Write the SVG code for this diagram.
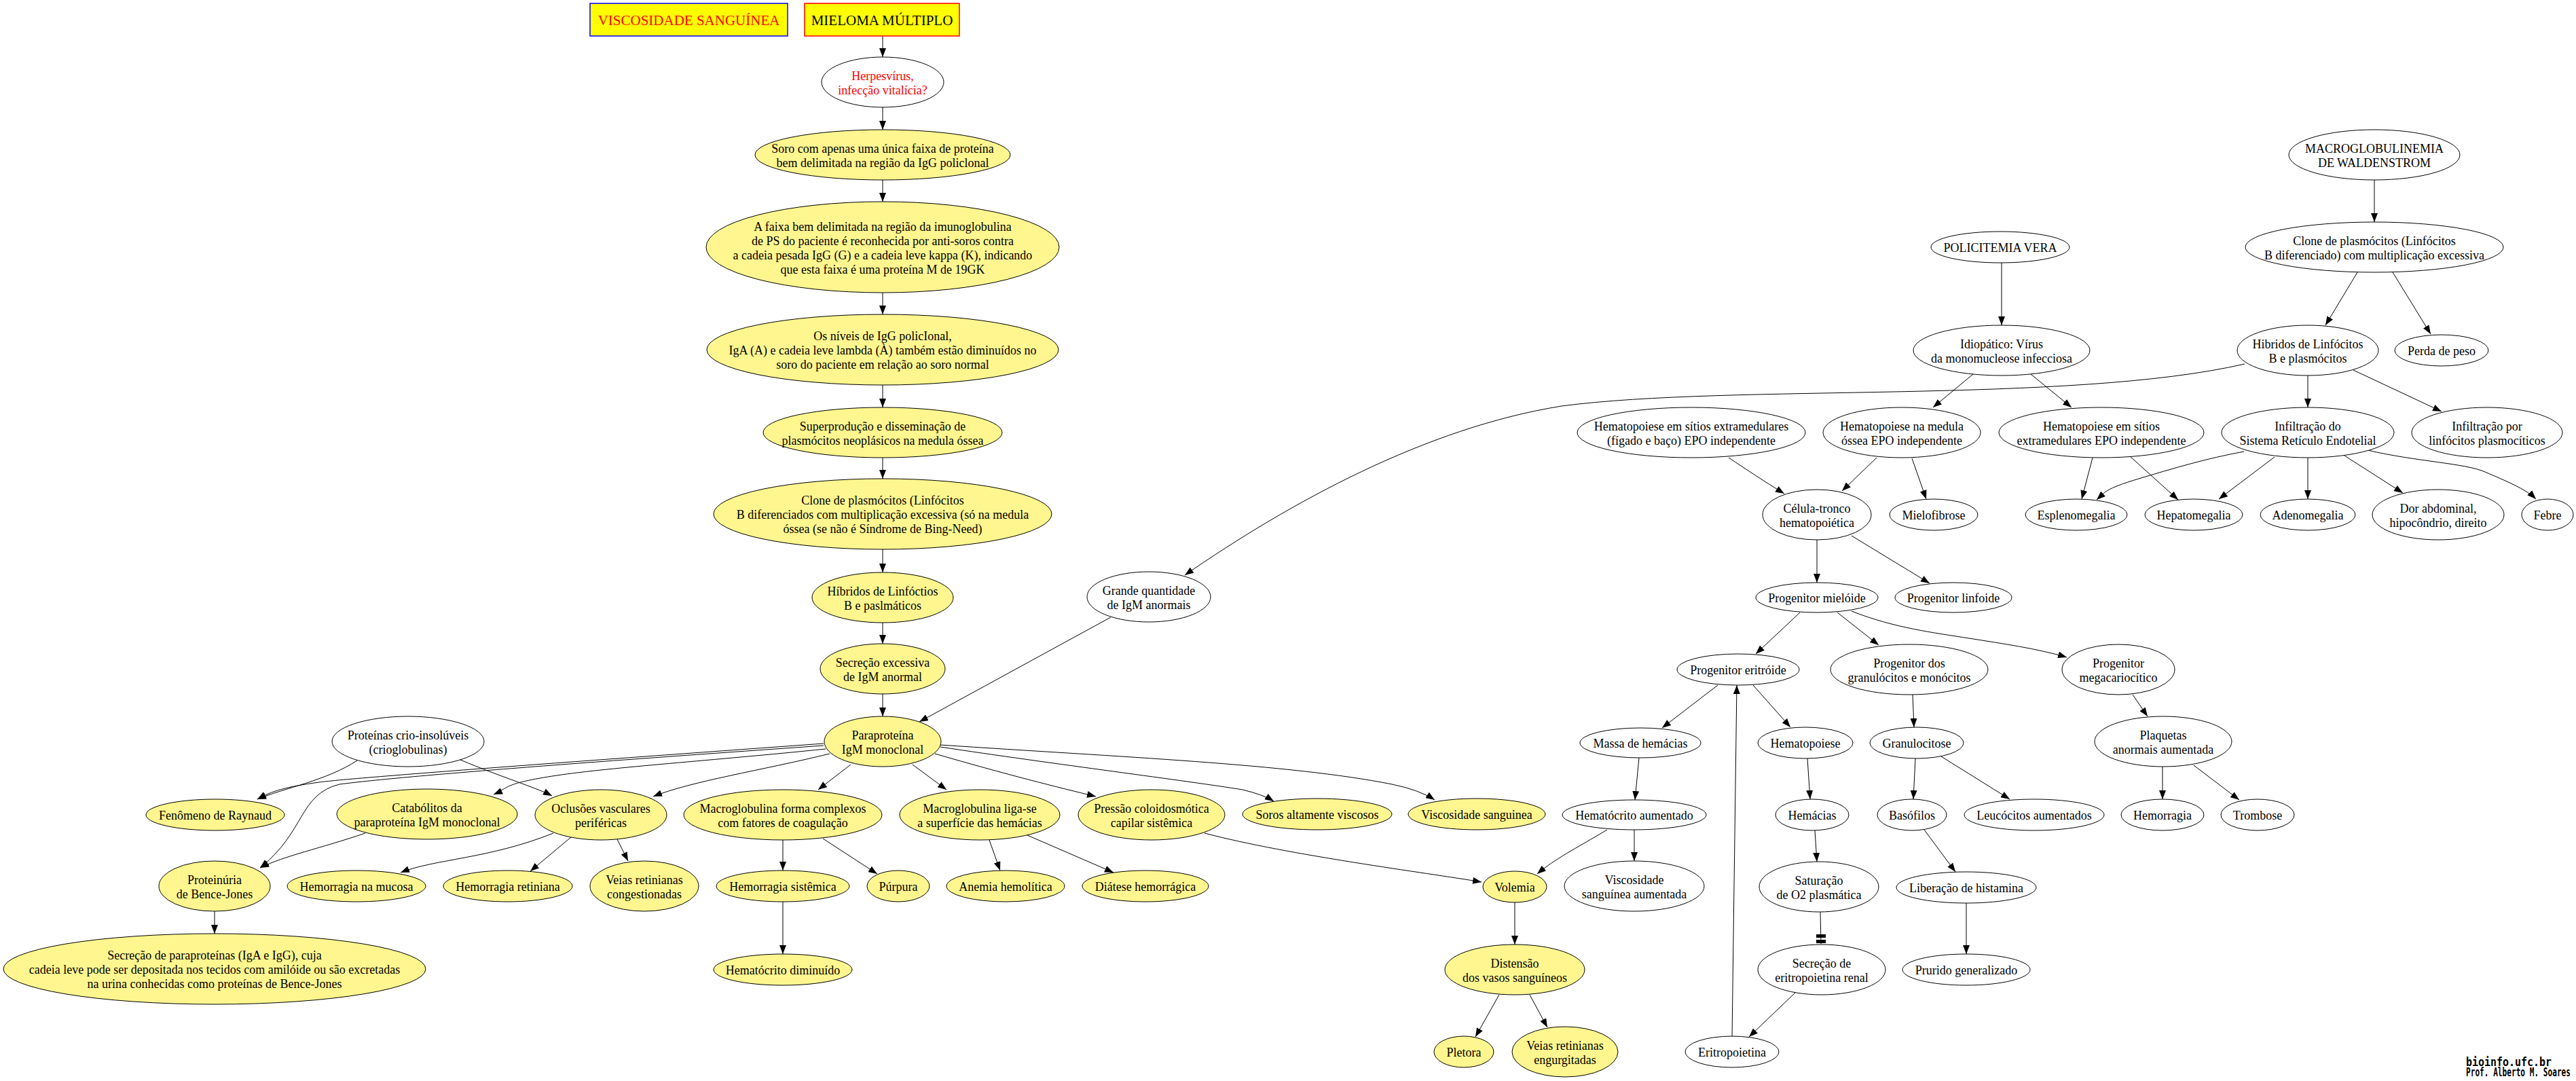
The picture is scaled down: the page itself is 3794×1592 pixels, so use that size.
<svg xmlns="http://www.w3.org/2000/svg" width="3794" height="1592" viewBox="0 0 3794 1592">
<style>
.y{fill:#fff68f;stroke:#000;stroke-width:1}
.w{fill:#fff;stroke:#000;stroke-width:1}
text{font-family:"Liberation Serif","Times New Roman",serif;font-size:18px;text-anchor:middle;fill:#000}
.big{font-size:21px}
.red{fill:#f00}
.e path{fill:none;stroke:#000;stroke-width:1;marker-end:url(#a)}
.foot{font-family:"DejaVu Sans Mono","Liberation Mono",monospace;font-weight:bold;text-anchor:start}
</style>
<defs>
<marker id="a" markerWidth="13" markerHeight="10" refX="13" refY="5" orient="auto" markerUnits="userSpaceOnUse"><path d="M0,0 L13,5 L0,10 z" fill="#000"/></marker>
</defs>
<rect width="3794" height="1592" fill="#fff"/>
<g class="e" id="connectors">
<path d="M1300,53 L1300,84"/>
<path d="M1300,158 L1300,191"/>
<path d="M1300,265 L1300,297"/>
<path d="M1300,431 L1300,463"/>
<path d="M1300,567 L1300,600"/>
<path d="M1300,674 L1300,705"/>
<path d="M1300,809 L1300,843"/>
<path d="M1300,917 L1300,948"/>
<path d="M1300,1022 L1300,1055"/>
<path d="M3306,536 C3050,595 2550,565 2300,598 C2100,630 1900,740 1745,847"/>
<path d="M1636,909 L1354,1063"/>
<path d="M1213,1095 C950,1114 520,1145 470,1152 S400,1165 379,1177"/>
<path d="M1213,1098 C900,1120 600,1142 500,1155 C440,1170 450,1225 383,1278"/>
<path d="M1216,1103 C1050,1120 900,1130 820,1142 S750,1160 727,1170"/>
<path d="M1222,1110 C1120,1135 1020,1150 962,1173"/>
<path d="M1253,1126 L1205,1163"/>
<path d="M1344,1126 L1394,1163"/>
<path d="M1377,1110 C1480,1140 1560,1160 1614,1173"/>
<path d="M1385,1100 C1550,1125 1750,1150 1830,1163 Q1860,1170 1876,1180"/>
<path d="M1385,1097 C1650,1115 1900,1125 2050,1155 Q2090,1163 2113,1178"/>
<path d="M1774,1227 C1900,1260 2100,1285 2182,1299"/>
<path d="M526,1120 C480,1150 420,1160 379,1177"/>
<path d="M678,1119 C740,1145 790,1160 813,1172"/>
<path d="M538,1227 C470,1250 420,1260 383,1278"/>
<path d="M316,1342 L316,1375"/>
<path d="M815,1227 C720,1265 640,1265 590,1285"/>
<path d="M841,1233 L781,1283"/>
<path d="M909,1236 L925,1268"/>
<path d="M1153,1237 L1153,1282"/>
<path d="M1212,1235 L1292,1287"/>
<path d="M1457,1237 L1473,1282"/>
<path d="M1513,1230 L1640,1285"/>
<path d="M1153,1328 L1153,1405"/>
<path d="M2414,1116 L2408,1178"/>
<path d="M2367,1222 C2320,1250 2290,1265 2264,1287"/>
<path d="M2407,1222 L2407,1268"/>
<path d="M2231,1329 L2231,1391"/>
<path d="M2208,1465 L2173,1527"/>
<path d="M2253,1465 L2279,1513"/>
<path d="M2530,1009 L2448,1072"/>
<path d="M2582,1009 L2637,1071"/>
<path d="M2662,1117 L2666,1177"/>
<path d="M2673,1223 L2676,1269"/>
<path d="M2681,1343 L2682,1390" style="marker-end:none"/>
<path d="M2644,1462 L2576,1527"/>
<path d="M2551,1526 L2558,1009"/>
<path d="M2651,902 L2586,963"/>
<path d="M2706,902 L2767,950"/>
<path d="M2727,900 C2790,925 2850,932 2900,940 S3000,955 3044,968"/>
<path d="M2817,1023 L2819,1071"/>
<path d="M2821,1117 L2818,1177"/>
<path d="M2859,1114 L2960,1177"/>
<path d="M2834,1222 L2880,1284"/>
<path d="M2896,1330 L2896,1405"/>
<path d="M3141,1023 L3163,1055"/>
<path d="M3185,1129 L3185,1177"/>
<path d="M3231,1127 L3298,1178"/>
<path d="M2948,387 L2948,479"/>
<path d="M2906,551 L2847,600"/>
<path d="M2991,551 L3051,600"/>
<path d="M2546,674 C2570,690 2600,710 2628,727"/>
<path d="M2764,674 L2713,723"/>
<path d="M2816,675 L2837,735"/>
<path d="M2676,795 L2676,858"/>
<path d="M2727,789 L2842,859"/>
<path d="M3082,674 L3066,735"/>
<path d="M3137,672 L3208,736"/>
<path d="M3305,665 C3250,675 3200,690 3150,705 S3100,725 3088,736"/>
<path d="M3350,673 L3268,735"/>
<path d="M3399,674 L3399,735"/>
<path d="M3453,671 L3539,726"/>
<path d="M3487,663 C3560,680 3630,682 3660,695 S3720,720 3735,735"/>
<path d="M3497,265 L3497,327"/>
<path d="M3472,401 L3425,479"/>
<path d="M3524,401 L3580,492"/>
<path d="M3399,553 L3399,600"/>
<path d="M3466,545 L3596,606"/>
<rect x="2675" y="1376" width="14" height="5" fill="#000"/>
<rect x="2675" y="1384" width="14" height="5" fill="#000"/>
</g>
<g id="visc_box"><rect x="869" y="5" width="291" height="48" fill="#ff0" stroke="#00f" stroke-width="1.5"/><text class="big red" x="1014.5" y="37">VISCOSIDADE SANGUÍNEA</text></g>
<g id="mieloma"><rect x="1185" y="5" width="228" height="48" fill="#ff0" stroke="#f00" stroke-width="1.5"/><text class="big" x="1299" y="37">MIELOMA MÚLTIPLO</text></g>
<g id="herpes"><ellipse class="w" cx="1300" cy="121" rx="90" ry="37"/><text class="red" x="1300" y="117.5"><tspan x="1300">Herpesvírus,</tspan><tspan x="1300" dy="21">infecção vitalícia?</tspan></text></g>
<g id="soro"><ellipse class="y" cx="1300" cy="228" rx="188" ry="37"/><text x="1300" y="224.5"><tspan x="1300">Soro com apenas uma única faixa de proteína</tspan><tspan x="1300" dy="21">bem delimitada na região da IgG policlonal</tspan></text></g>
<g id="faixa"><ellipse class="y" cx="1300" cy="364" rx="260" ry="67"/><text x="1300" y="339.5"><tspan x="1300">A faixa bem delimitada na região da imunoglobulina</tspan><tspan x="1300" dy="21">de PS do paciente é reconhecida por anti-soros contra</tspan><tspan x="1300" dy="21">a cadeia pesada IgG (G) e a cadeia leve kappa (K), indicando</tspan><tspan x="1300" dy="21">que esta faixa é uma proteína M de 19GK</tspan></text></g>
<g id="niveis"><ellipse class="y" cx="1300" cy="515" rx="259" ry="52"/><text x="1300" y="501"><tspan x="1300">Os níveis de IgG policIonal,</tspan><tspan x="1300" dy="21">IgA (A) e cadeia leve lambda (À) também estão diminuídos no</tspan><tspan x="1300" dy="21">soro do paciente em relação ao soro normal</tspan></text></g>
<g id="super"><ellipse class="y" cx="1300" cy="637" rx="176" ry="37"/><text x="1300" y="633.5"><tspan x="1300">Superprodução e disseminação de</tspan><tspan x="1300" dy="21">plasmócitos neoplásicos na medula óssea</tspan></text></g>
<g id="clone"><ellipse class="y" cx="1300" cy="757" rx="249" ry="52"/><text x="1300" y="743"><tspan x="1300">Clone de plasmócitos (Linfócitos</tspan><tspan x="1300" dy="21">B diferenciados com multiplicação excessiva (só na medula</tspan><tspan x="1300" dy="21">óssea (se não é Síndrome de Bing-Need)</tspan></text></g>
<g id="hibridos"><ellipse class="y" cx="1300" cy="880" rx="104" ry="37"/><text x="1300" y="876.5"><tspan x="1300">Híbridos de Linfóctios</tspan><tspan x="1300" dy="21">B e paslmáticos</tspan></text></g>
<g id="secrecao"><ellipse class="y" cx="1300" cy="985" rx="92" ry="37"/><text x="1300" y="981.5"><tspan x="1300">Secreção excessiva</tspan><tspan x="1300" dy="21">de IgM anormal</tspan></text></g>
<g id="para"><ellipse class="y" cx="1300" cy="1092" rx="86" ry="37"/><text x="1300" y="1088.5"><tspan x="1300">Paraproteína</tspan><tspan x="1300" dy="21">IgM monoclonal</tspan></text></g>
<g id="grande"><ellipse class="w" cx="1692" cy="879" rx="91" ry="37"/><text x="1692" y="875.5"><tspan x="1692">Grande quantidade</tspan><tspan x="1692" dy="21">de IgM anormais</tspan></text></g>
<g id="crio"><ellipse class="w" cx="601" cy="1092" rx="112" ry="37"/><text x="601" y="1088.5"><tspan x="601">Proteínas crio-insolúveis</tspan><tspan x="601" dy="21">(crioglobulinas)</tspan></text></g>
<g id="fenomeno"><ellipse class="y" cx="317" cy="1200" rx="102" ry="23"/><text x="317" y="1207">Fenômeno de Raynaud</text></g>
<g id="catabolitos"><ellipse class="y" cx="629" cy="1199" rx="133" ry="37"/><text x="629" y="1195.5"><tspan x="629">Catabólitos da</tspan><tspan x="629" dy="21">paraproteína IgM monoclonal</tspan></text></g>
<g id="oclusoes"><ellipse class="y" cx="885" cy="1200" rx="97" ry="37"/><text x="885" y="1196.5"><tspan x="885">Oclusões vasculares</tspan><tspan x="885" dy="21">periféricas</tspan></text></g>
<g id="proteinuria"><ellipse class="y" cx="316" cy="1305" rx="82" ry="37"/><text x="316" y="1301.5"><tspan x="316">Proteinúria</tspan><tspan x="316" dy="21">de Bence-Jones</tspan></text></g>
<g id="hem_mucosa"><ellipse class="y" cx="525" cy="1305" rx="102" ry="23"/><text x="525" y="1312">Hemorragia na mucosa</text></g>
<g id="hem_ret"><ellipse class="y" cx="748" cy="1305" rx="95" ry="23"/><text x="748" y="1312">Hemorragia retiniana</text></g>
<g id="veias_cong"><ellipse class="y" cx="949" cy="1305" rx="80" ry="37"/><text x="949" y="1301.5"><tspan x="949">Veias retinianas</tspan><tspan x="949" dy="21">congestionadas</tspan></text></g>
<g id="secrecao_para"><ellipse class="y" cx="316" cy="1427" rx="311" ry="52"/><text x="316" y="1413"><tspan x="316">Secreção de paraproteínas (IgA e IgG), cuja</tspan><tspan x="316" dy="21">cadeia leve pode ser depositada nos tecidos com amilóide ou são excretadas</tspan><tspan x="316" dy="21">na urina conhecidas como proteínas de Bence-Jones</tspan></text></g>
<g id="macro_comp"><ellipse class="y" cx="1153" cy="1200" rx="146" ry="37"/><text x="1153" y="1196.5"><tspan x="1153">Macroglobulina forma complexos</tspan><tspan x="1153" dy="21">com fatores de coagulação</tspan></text></g>
<g id="macro_liga"><ellipse class="y" cx="1443" cy="1200" rx="118" ry="37"/><text x="1443" y="1196.5"><tspan x="1443">Macroglobulina liga-se</tspan><tspan x="1443" dy="21">a superfície das hemácias</tspan></text></g>
<g id="pressao"><ellipse class="y" cx="1696" cy="1200" rx="108" ry="37"/><text x="1696" y="1196.5"><tspan x="1696">Pressão coloidosmótica</tspan><tspan x="1696" dy="21">capilar sistêmica</tspan></text></g>
<g id="soros"><ellipse class="y" cx="1940" cy="1199" rx="110" ry="23"/><text x="1940" y="1206">Soros altamente viscosos</text></g>
<g id="visc_sang"><ellipse class="y" cx="2175" cy="1199" rx="101" ry="23"/><text x="2175" y="1206">Viscosidade sanguinea</text></g>
<g id="hem_sist"><ellipse class="y" cx="1153" cy="1305" rx="98" ry="23"/><text x="1153" y="1312">Hemorragia sistêmica</text></g>
<g id="purpura"><ellipse class="y" cx="1323" cy="1305" rx="46" ry="23"/><text x="1323" y="1312">Púrpura</text></g>
<g id="anemia"><ellipse class="y" cx="1481" cy="1305" rx="87" ry="23"/><text x="1481" y="1312">Anemia hemolítica</text></g>
<g id="diatese"><ellipse class="y" cx="1687" cy="1305" rx="93" ry="23"/><text x="1687" y="1312">Diátese hemorrágica</text></g>
<g id="hemat_dim"><ellipse class="y" cx="1153" cy="1428" rx="102" ry="23"/><text x="1153" y="1435">Hematócrito diminuído</text></g>
<g id="massa"><ellipse class="w" cx="2416" cy="1094" rx="89" ry="22"/><text x="2416" y="1101">Massa de hemácias</text></g>
<g id="hemat_aum"><ellipse class="w" cx="2407" cy="1200" rx="106" ry="22"/><text x="2407" y="1207">Hematócrito aumentado</text></g>
<g id="visc_aum"><ellipse class="w" cx="2407" cy="1305" rx="103" ry="37"/><text x="2407" y="1301.5"><tspan x="2407">Viscosidade</tspan><tspan x="2407" dy="21">sanguínea aumentada</tspan></text></g>
<g id="volemia"><ellipse class="y" cx="2231" cy="1306" rx="47" ry="23"/><text x="2231" y="1313">Volemia</text></g>
<g id="distensao"><ellipse class="y" cx="2231" cy="1428" rx="103" ry="37"/><text x="2231" y="1424.5"><tspan x="2231">Distensão</tspan><tspan x="2231" dy="21">dos vasos sanguíneos</tspan></text></g>
<g id="pletora"><ellipse class="y" cx="2156" cy="1549" rx="44" ry="23"/><text x="2156" y="1556">Pletora</text></g>
<g id="veias_eng"><ellipse class="y" cx="2305" cy="1549" rx="78" ry="37"/><text x="2305" y="1545.5"><tspan x="2305">Veias retinianas</tspan><tspan x="2305" dy="21">engurgitadas</tspan></text></g>
<g id="eritropoietina"><ellipse class="w" cx="2551" cy="1549" rx="69" ry="23"/><text x="2551" y="1556">Eritropoietina</text></g>
<g id="policitemia"><ellipse class="w" cx="2946" cy="364" rx="102" ry="23"/><text x="2946" y="371">POLICITEMIA VERA</text></g>
<g id="idiopatico"><ellipse class="w" cx="2948" cy="516" rx="130" ry="37"/><text x="2948" y="512.5"><tspan x="2948">Idiopático: Vírus</tspan><tspan x="2948" dy="21">da monomucleose infecciosa</tspan></text></g>
<g id="hemat_figado"><ellipse class="w" cx="2491" cy="637" rx="168" ry="37"/><text x="2491" y="633.5"><tspan x="2491">Hematopoiese em sítios extramedulares</tspan><tspan x="2491" dy="21">(fígado e baço) EPO independente</tspan></text></g>
<g id="hemat_medula"><ellipse class="w" cx="2801" cy="637" rx="116" ry="37"/><text x="2801" y="633.5"><tspan x="2801">Hematopoiese na medula</tspan><tspan x="2801" dy="21">óssea EPO independente</tspan></text></g>
<g id="hemat_sitios"><ellipse class="w" cx="3095" cy="637" rx="151" ry="37"/><text x="3095" y="633.5"><tspan x="3095">Hematopoiese em sítios</tspan><tspan x="3095" dy="21">extramedulares EPO independente</tspan></text></g>
<g id="celula"><ellipse class="w" cx="2676" cy="758" rx="80" ry="37"/><text x="2676" y="754.5"><tspan x="2676">Célula-tronco</tspan><tspan x="2676" dy="21">hematopoiética</tspan></text></g>
<g id="mielofibrose"><ellipse class="w" cx="2848" cy="758" rx="65" ry="23"/><text x="2848" y="765">Mielofibrose</text></g>
<g id="prog_mie"><ellipse class="w" cx="2676" cy="880" rx="90" ry="22"/><text x="2676" y="887">Progenitor mielóide</text></g>
<g id="prog_lin"><ellipse class="w" cx="2877" cy="880" rx="86" ry="22"/><text x="2877" y="887">Progenitor linfoide</text></g>
<g id="prog_eri"><ellipse class="w" cx="2560" cy="986" rx="90" ry="23"/><text x="2560" y="993">Progenitor eritróide</text></g>
<g id="prog_gran"><ellipse class="w" cx="2812" cy="986" rx="116" ry="37"/><text x="2812" y="982.5"><tspan x="2812">Progenitor dos</tspan><tspan x="2812" dy="21">granulócitos e monócitos</tspan></text></g>
<g id="prog_mega"><ellipse class="w" cx="3120" cy="986" rx="83" ry="37"/><text x="3120" y="982.5"><tspan x="3120">Progenitor</tspan><tspan x="3120" dy="21">megacariocítico</tspan></text></g>
<g id="hematopoiese"><ellipse class="w" cx="2659" cy="1094" rx="70" ry="23"/><text x="2659" y="1101">Hematopoiese</text></g>
<g id="granulocitose"><ellipse class="w" cx="2823" cy="1094" rx="69" ry="23"/><text x="2823" y="1101">Granulocitose</text></g>
<g id="plaquetas"><ellipse class="w" cx="3186" cy="1092" rx="101" ry="37"/><text x="3186" y="1088.5"><tspan x="3186">Plaquetas</tspan><tspan x="3186" dy="21">anormais aumentada</tspan></text></g>
<g id="hemacias"><ellipse class="w" cx="2669" cy="1200" rx="54" ry="23"/><text x="2669" y="1207">Hemácias</text></g>
<g id="basofilos"><ellipse class="w" cx="2816" cy="1200" rx="51" ry="23"/><text x="2816" y="1207">Basófilos</text></g>
<g id="leucocitos"><ellipse class="w" cx="2996" cy="1200" rx="103" ry="23"/><text x="2996" y="1207">Leucócitos aumentados</text></g>
<g id="hemorragia"><ellipse class="w" cx="3185" cy="1200" rx="61" ry="23"/><text x="3185" y="1207">Hemorragia</text></g>
<g id="trombose"><ellipse class="w" cx="3325" cy="1200" rx="54" ry="23"/><text x="3325" y="1207">Trombose</text></g>
<g id="saturacao"><ellipse class="w" cx="2679" cy="1306" rx="88" ry="37"/><text x="2679" y="1302.5"><tspan x="2679">Saturação</tspan><tspan x="2679" dy="21">de O2 plasmática</tspan></text></g>
<g id="liberacao"><ellipse class="w" cx="2896" cy="1307" rx="103" ry="23"/><text x="2896" y="1314">Liberação de histamina</text></g>
<g id="secrecao_epo"><ellipse class="w" cx="2683" cy="1428" rx="94" ry="37"/><text x="2683" y="1424.5"><tspan x="2683">Secreção de</tspan><tspan x="2683" dy="21">eritropoietina renal</tspan></text></g>
<g id="prurido"><ellipse class="w" cx="2896" cy="1428" rx="94" ry="23"/><text x="2896" y="1435">Prurido generalizado</text></g>
<g id="esplenomegalia"><ellipse class="w" cx="3058" cy="758" rx="75" ry="23"/><text x="3058" y="765">Esplenomegalia</text></g>
<g id="hepatomegalia"><ellipse class="w" cx="3231" cy="758" rx="72" ry="23"/><text x="3231" y="765">Hepatomegalia</text></g>
<g id="adenomegalia"><ellipse class="w" cx="3399" cy="758" rx="70" ry="23"/><text x="3399" y="765">Adenomegalia</text></g>
<g id="dor"><ellipse class="w" cx="3591" cy="758" rx="97" ry="37"/><text x="3591" y="754.5"><tspan x="3591">Dor abdominal,</tspan><tspan x="3591" dy="21">hipocôndrio, direito</tspan></text></g>
<g id="febre"><ellipse class="w" cx="3752" cy="758" rx="38" ry="23"/><text x="3752" y="765">Febre</text></g>
<g id="macro_w"><ellipse class="w" cx="3497" cy="228" rx="126" ry="37"/><text x="3497" y="224.5"><tspan x="3497">MACROGLOBULINEMIA</tspan><tspan x="3497" dy="21">DE WALDENSTROM</tspan></text></g>
<g id="clone_w"><ellipse class="w" cx="3497" cy="364" rx="190" ry="37"/><text x="3497" y="360.5"><tspan x="3497">Clone de plasmócitos (Linfócitos</tspan><tspan x="3497" dy="21">B diferenciado) com multiplicação excessiva</tspan></text></g>
<g id="hibridos_w"><ellipse class="w" cx="3399" cy="516" rx="104" ry="37"/><text x="3399" y="512.5"><tspan x="3399">Hibridos de Linfócitos</tspan><tspan x="3399" dy="21">B e plasmócitos</tspan></text></g>
<g id="perda"><ellipse class="w" cx="3596" cy="516" rx="69" ry="23"/><text x="3596" y="523">Perda de peso</text></g>
<g id="infil_sre"><ellipse class="w" cx="3399" cy="637" rx="127" ry="37"/><text x="3399" y="633.5"><tspan x="3399">Infiltração do</tspan><tspan x="3399" dy="21">Sistema Retículo Endotelial</tspan></text></g>
<g id="infil_lin"><ellipse class="w" cx="3663" cy="637" rx="111" ry="37"/><text x="3663" y="633.5"><tspan x="3663">Infiltração por</tspan><tspan x="3663" dy="21">linfócitos plasmocíticos</tspan></text></g>
<g id="footer"><text class="foot" x="3632" y="1570" font-size="15" textLength="126" lengthAdjust="spacingAndGlyphs">bioinfo.ufc.br</text><text class="foot" x="3632" y="1585" font-size="12" textLength="154" lengthAdjust="spacingAndGlyphs">Prof. Alberto M. Soares</text></g>
</svg>
